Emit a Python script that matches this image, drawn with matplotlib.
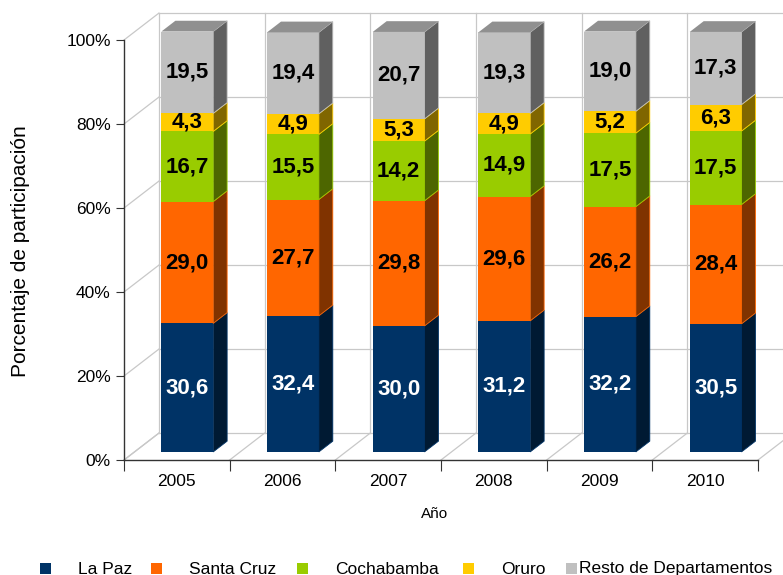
import matplotlib
matplotlib.use("Agg")
import matplotlib.pyplot as plt
from matplotlib.patches import Polygon, Rectangle
from matplotlib.colors import to_rgb

plt.rcParams["font.family"] = ["Liberation Sans", "DejaVu Sans"]

# ==========================
# DADOS
# ==========================
anos = ["2005", "2006", "2007", "2008", "2009", "2010"]
la_paz = [30.6, 32.4, 30.0, 31.2, 32.2, 30.5]
santa_cruz = [29.0, 27.7, 29.8, 29.6, 26.2, 28.4]
cochabamba = [16.7, 15.5, 14.2, 14.9, 17.5, 17.5]
oruro = [4.3, 4.9, 5.3, 4.9, 5.2, 6.3]
resto = [19.5, 19.4, 20.7, 19.3, 19.0, 17.3]

departamentos = ["La Paz", "Santa Cruz", "Cochabamba", "Oruro", "Resto de Departamentos"]
series = [la_paz, santa_cruz, cochabamba, oruro, resto]
cores = ["#003366", "#ff6600", "#99cc00", "#ffcc00", "#c0c0c0"]
cores_texto = ["white", "black", "black", "black", "black"]

# profundidade do "3D" (em unidades de dados)
PROF_X, PROF_Y = 0.33, 6.4
INI, FIM = 0.3, 0.7
LARGURA = 0.49
COR_GRADE = "#c8c8c8"

W, H = 783, 575


def escurecer(cor, f):
    return tuple(c * f for c in to_rgb(cor))


fig = plt.figure(figsize=(W / 100, H / 100), dpi=100)
ax = fig.add_axes([124 / W, 115 / H, 634 / W, 420 / H])
n = len(anos)
ax.set_xlim(0, n)
ax.set_ylim(0, 100)

# ==========================
# Paredes (grade)
# ==========================
for y in range(0, 101, 20):
    ax.plot([0, PROF_X], [y, y + PROF_Y], color=COR_GRADE, lw=0.9, clip_on=False, zorder=1)
    ax.plot([PROF_X, n + PROF_X], [y + PROF_Y, y + PROF_Y], color=COR_GRADE, lw=0.9,
            clip_on=False, zorder=1)
for i in range(n + 1):
    ax.plot([i + PROF_X, i + PROF_X], [PROF_Y, 100 + PROF_Y], color=COR_GRADE, lw=0.9,
            clip_on=False, zorder=1)
    ax.plot([i, i + PROF_X], [0, PROF_Y], color=COR_GRADE, lw=0.9, clip_on=False, zorder=1)

# ==========================
# Barras
# ==========================
dx = (FIM - INI) * PROF_X
dy = (FIM - INI) * PROF_Y
centros = [i + 0.5 + INI * PROF_X for i in range(n)]
base = [INI * PROF_Y] * n

for k, valores in enumerate(series):
    ax.bar(centros, valores, bottom=base, width=LARGURA, color=cores[k],
           linewidth=0, clip_on=False, zorder=3)
    for i in range(n):
        xl = centros[i] - LARGURA / 2
        xr = centros[i] + LARGURA / 2
        y0 = base[i]
        y1 = base[i] + valores[i]
        lado = Polygon([(xr, y0), (xr + dx, y0 + dy), (xr + dx, y1 + dy), (xr, y1)],
                       closed=True, facecolor=escurecer(cores[k], 0.5),
                       edgecolor=cores[k], lw=0.6, clip_on=False, zorder=3)
        ax.add_patch(lado)
        if k == len(series) - 1:
            topo = Polygon([(xl, y1), (xr, y1), (xr + dx, y1 + dy), (xl + dx, y1 + dy)],
                           closed=True, facecolor=escurecer(cores[k], 0.75),
                           edgecolor="none", clip_on=False, zorder=3)
            ax.add_patch(topo)
        ax.text(centros[i], (y0 + y1) / 2, f"{valores[i]:.1f}".replace(".", ","),
                ha="center", va="center", fontsize=16, fontweight="bold",
                color=cores_texto[k], zorder=4)
    base = [b + v for b, v in zip(base, valores)]

# ==========================
# Eixos
# ==========================
for lado in ["top", "right"]:
    ax.spines[lado].set_visible(False)
for lado in ["left", "bottom"]:
    ax.spines[lado].set_color("#333333")
    ax.spines[lado].set_linewidth(1.0)

ax.set_yticks(range(0, 101, 20))
ax.set_yticklabels([f"{v}%" for v in range(0, 101, 20)])
ax.tick_params(axis="y", length=6, labelsize=12.5, color="#333333")

ax.set_xticks(range(n + 1))
ax.set_xticklabels([])
ax.set_xticks([i + 0.5 for i in range(n)], minor=True)
ax.set_xticklabels(anos, minor=True)
ax.tick_params(axis="x", which="major", length=8, color="#333333")
ax.tick_params(axis="x", which="minor", length=0, labelsize=12.5, pad=10)

fig.text(21 / W, 1 - 251 / H, "Porcentaje de participación", rotation=90,
         ha="center", va="center", fontsize=15)
fig.text(435 / W, 1 - 514 / H, "Año", ha="center", va="center", fontsize=11)

# ==========================
# Legenda (posições)
# ==========================
leg_marcador_x = [40, 151, 297, 463, 566]
leg_texto_x = [78, 189, 335, 501, 579]
leg_y = 568
for k in range(len(departamentos)):
    fig.add_artist(Rectangle((leg_marcador_x[k] / W, (H - leg_y - 5.5) / H), 11 / W, 11 / H,
                             transform=fig.transFigure, facecolor=cores[k], edgecolor="none"))
    fig.text(leg_texto_x[k] / W, 1 - (leg_y + 1) / H, departamentos[k], ha="left", va="center",
             fontsize=12.5)

fig.savefig("out.png", dpi=100)
